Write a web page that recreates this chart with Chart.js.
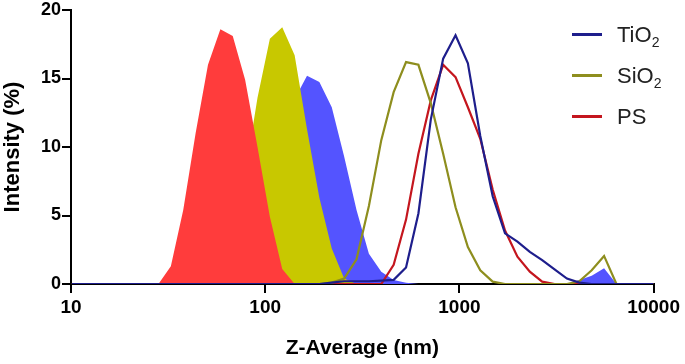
<!DOCTYPE html>
<html>
<head>
<meta charset="utf-8">
<script src="https://cdn.jsdelivr.net/npm/chart.js@4.4.0/dist/chart.umd.min.js"></script>
<style>
    html, body { margin: 0; padding: 0; background: #fff; }
    .wrap { position: relative; width: 685px; height: 364px; }
    #legend {
        position: absolute;
        left: 572px;
        top: 14px;
        font-family: Arial, "Liberation Sans", sans-serif;
        font-size: 22px;
        color: #222;
    }
    .legend-row { display: flex; align-items: center; height: 41px; }
    .swatch { display: inline-block; width: 30px; height: 3px; margin-right: 15px; }
    .legend-row sub { font-size: 14px; vertical-align: -5px; line-height: 0; }
</style>
</head>
<body>
<div class="wrap">
    <canvas id="dlsChart" width="685" height="364"></canvas>
    <div id="legend"></div>
</div>
<script>
// Size bins (nm) and intensity (%) per bin
const sizes = [10.1, 11.7, 13.54, 15.69, 18.17, 21.04, 24.36, 28.21, 32.67, 37.84, 43.82, 50.75, 58.77, 68.06, 78.82, 91.28, 105.7, 122.4, 141.8, 164.2, 190.1, 220.2, 255.0, 295.3, 342.0, 396.1, 458.7, 531.2, 615.1, 712.4, 825.0, 955.4, 1106, 1281, 1484, 1718, 1990, 2305, 2669, 3091, 3580, 4145, 4801, 5560, 6439, 7456, 8635, 10000];

// filled (small particles)
const psFill   = [0, 0, 0, 0, 0, 0, 0, 0, 1.3, 5.4, 11.0, 16.0, 18.6, 18.1, 14.9, 10.0, 4.9, 1.1, 0, 0, 0, 0, 0, 0, 0, 0, 0, 0, 0, 0, 0, 0, 0, 0, 0, 0, 0, 0, 0, 0, 0, 0, 0, 0, 0, 0, 0, 0];
const sio2Fill = [0, 0, 0, 0, 0, 0, 0, 0, 0, 0, 0, 0, 0.5, 3.0, 8.0, 13.6, 17.9, 18.75, 16.7, 11.3, 6.3, 2.6, 0.4, 0, 0, 0, 0, 0, 0, 0, 0, 0, 0, 0, 0, 0, 0, 0, 0, 0, 0, 0, 0, 0, 0, 0, 0, 0];
const tio2Fill = [0, 0, 0, 0, 0, 0, 0, 0, 0, 0, 0, 0, 0, 0, 0, 0, 1.0, 6.0, 13.5, 15.2, 14.75, 12.9, 9.3, 5.4, 2.2, 0.9, 0.3, 0.1, 0, 0, 0, 0, 0, 0, 0, 0, 0, 0, 0, 0, 0, 0.3, 0.6, 1.15, 0, 0, 0, 0];

// lines (large particles)
const tio2Line = [0, 0, 0, 0, 0, 0, 0, 0, 0, 0, 0, 0, 0, 0, 0, 0, 0, 0, 0, 0, 0, 0.1, 0.2, 0.2, 0.2, 0.25, 0.3, 1.2, 5.15, 12.0, 16.45, 18.15, 16.1, 10.8, 6.4, 3.7, 3.1, 2.35, 1.75, 1.07, 0.4, 0.1, 0, 0, 0, 0, 0, 0];
const sio2Line = [0, 0, 0, 0, 0, 0, 0, 0, 0, 0, 0, 0, 0, 0, 0, 0, 0, 0, 0, 0, 0, 0.1, 0.4, 1.8, 5.7, 10.5, 14.0, 16.2, 16.0, 13.2, 9.5, 5.6, 2.7, 1.0, 0.17, 0, 0, 0, 0, 0, 0, 0.2, 1.0, 2.05, 0, 0, 0, 0];
const psLine   = [0, 0, 0, 0, 0, 0, 0, 0, 0, 0, 0, 0, 0, 0, 0, 0, 0, 0, 0, 0, 0, 0, 0, 0, 0, 0, 1.4, 4.7, 9.5, 13.4, 16.0, 15.1, 12.9, 10.6, 6.9, 3.9, 2.0, 0.9, 0.17, 0, 0, 0, 0, 0, 0, 0, 0, 0];

const xTicks = [10, 100, 1000, 10000];
const yTicks = [0, 5, 10, 15, 20];

const fontFamily = 'Arial, "Liberation Sans", sans-serif';

const toPoints = (values) => sizes.map((s, i) => ({ x: s, y: values[i] }));

const lineSet = (label, values, color) => ({
    label: label,
    data: toPoints(values),
    borderColor: color,
    backgroundColor: color,
    borderWidth: 2.2,
    pointRadius: 0,
    tension: 0,
    fill: false,
    inLegend: true
});

const fillSet = (label, values, color) => ({
    label: label,
    data: toPoints(values),
    borderColor: 'rgba(0,0,0,0)',
    backgroundColor: color,
    borderWidth: 0,
    pointRadius: 0,
    tension: 0,
    fill: 'origin',
    inLegend: false
});

// legend drawn as html so the subscripts are real text
const htmlLegend = {
    id: 'htmlLegend',
    afterUpdate(chart) {
        const box = document.getElementById('legend');
        box.innerHTML = '';
        chart.data.datasets.filter((ds) => ds.inLegend).forEach((ds) => {
            const row = document.createElement('div');
            row.className = 'legend-row';
            const swatch = document.createElement('span');
            swatch.className = 'swatch';
            swatch.style.background = ds.borderColor;
            const text = document.createElement('span');
            text.innerHTML = ds.label.replace(/(\d)/g, '<sub>$1</sub>');
            row.append(swatch, text);
            box.appendChild(row);
        });
    }
};

const axisGrid = {
    display: true,
    drawOnChartArea: false,
    drawTicks: true,
    tickLength: 9,
    color: '#000',
    lineWidth: 2
};

const ctx = document.getElementById('dlsChart');

new Chart(ctx, {
    type: 'line',
    data: {
        datasets: [
            lineSet('TiO2', tio2Line, '#1e1e8c'),
            lineSet('SiO2', sio2Line, '#8e8e1e'),
            lineSet('PS', psLine, '#c4161e'),
            fillSet('PS small', psFill, '#ff3c3c'),
            fillSet('SiO2 small', sio2Fill, '#c8c800'),
            fillSet('TiO2 small', tio2Fill, '#5454ff')
        ]
    },
    options: {
        responsive: false,
        animation: false,
        layout: {
            padding: { left: 0, right: 29, top: 9.5, bottom: 0 }
        },
        plugins: {
            legend: { display: false },
            tooltip: { enabled: false }
        },
        scales: {
            x: {
                type: 'logarithmic',
                min: 10,
                max: 10000,
                afterBuildTicks: (scale) => {
                    scale.ticks = xTicks.map((v) => ({ value: v, major: true }));
                },
                afterFit: (scale) => {
                    scale.height = 80;
                },
                ticks: {
                    autoSkip: false,
                    maxRotation: 0,
                    padding: 5,
                    color: '#000',
                    font: { family: fontFamily, size: 19, weight: 'bold', lineHeight: 1 },
                    callback: (value) => String(value)
                },
                grid: axisGrid,
                border: { display: true, color: '#000', width: 2 },
                title: {
                    display: true,
                    text: 'Z-Average (nm)',
                    color: '#000',
                    font: { family: fontFamily, size: 21, weight: 'bold', lineHeight: 1.2 },
                    padding: { top: 0, bottom: 3 }
                }
            },
            y: {
                min: 0,
                max: 20,
                afterBuildTicks: (scale) => {
                    scale.ticks = yTicks.map((v) => ({ value: v }));
                },
                afterFit: (scale) => {
                    scale.width = 71;
                },
                ticks: {
                    padding: 1,
                    color: '#000',
                    font: { family: fontFamily, size: 18, weight: 'bold', lineHeight: 1 }
                },
                grid: axisGrid,
                border: { display: true, color: '#000', width: 2 },
                title: {
                    display: true,
                    text: 'Intensity (%)',
                    color: '#000',
                    font: { family: fontFamily, size: 22, weight: 'bold', lineHeight: 1.1 },
                    padding: { top: 1, bottom: 0 }
                }
            }
        }
    },
    plugins: [htmlLegend]
});
</script>
</body>
</html>
